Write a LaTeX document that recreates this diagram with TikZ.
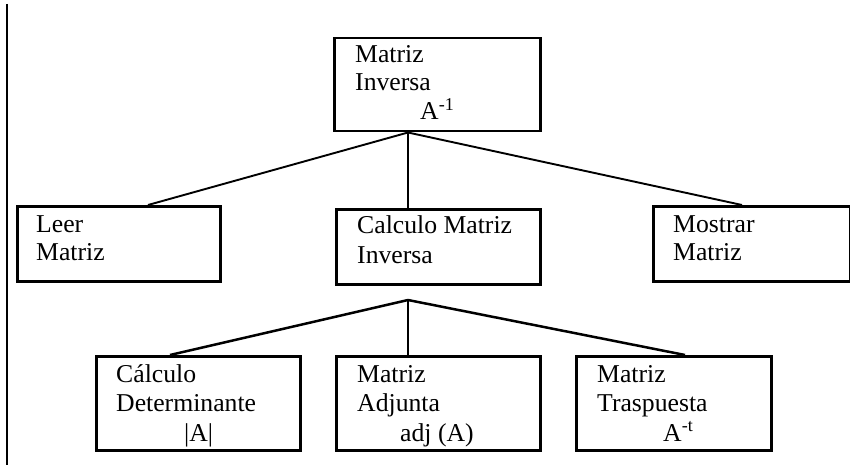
\documentclass[tikz,border=0pt]{standalone}
\usepackage{fontspec}
\setmainfont{Liberation Serif}
\begin{document}
\begin{tikzpicture}[x=1pt,y=-1pt,
  box/.style={draw,line width=2.5pt,rectangle,anchor=north west,inner sep=0pt},
  lbl/.style={anchor=base west,inner sep=0pt,font=\fontsize{25.7}{29}\selectfont},
  conn/.style={line width=1.9pt}]
\useasboundingbox (0,0) rectangle (850,465);
% left rule
\coordinate (rt) at (7,4);
\coordinate (rb) at (7,465);
\draw[line width=2.5pt] (rt) -- (rb);
% boxes
\node[box,minimum width=206pt,minimum height=93pt] (top) at (333,37) {};
\node[box,minimum width=203pt,minimum height=75pt] (leer) at (16,205) {};
\node[box,minimum width=204pt,minimum height=75pt] (calc) at (335,208) {};
\node[box,minimum width=197pt,minimum height=75pt] (most) at (652,205) {};
\node[box,minimum width=204pt,minimum height=94pt] (det) at (95,355) {};
\node[box,minimum width=204pt,minimum height=94pt] (adj) at (335,355) {};
\node[box,minimum width=195pt,minimum height=94pt] (tra) at (575,355) {};
% texts
\node[lbl] (t1) at (355,63) {Matriz};
\node[lbl] (t2) at (355,91) {Inversa};
\node[lbl] (t3) at (420,120) {A\textsuperscript{-1}};
\node[lbl] (l1) at (36,232) {Leer};
\node[lbl] (l2) at (36,260) {Matriz};
\node[lbl] (c1) at (357,233) {Calculo Matriz};
\node[lbl] (c2) at (357,263) {Inversa};
\node[lbl] (m1) at (673,232) {Mostrar};
\node[lbl] (m2) at (673,260) {Matriz};
\node[lbl] (d1) at (116,382) {Cálculo};
\node[lbl] (d2) at (116,411) {Determinante};
\node[lbl] (d3) at (184,441) {|A|};
\node[lbl] (a1) at (357,382) {Matriz};
\node[lbl] (a2) at (357,411) {Adjunta};
\node[lbl] (a3) at (400,441) {adj (A)};
\node[lbl] (p1) at (597,382) {Matriz};
\node[lbl] (p2) at (597,411) {Traspuesta};
\node[lbl] (p3) at (663,441) {A\textsuperscript{-t}};
% connectors
\coordinate (join) at ([xshift=75pt]top.south west);
\draw[conn] (join) -- ([xshift=132pt]leer.north west);
\draw[conn] (join) -- (join |- calc.north);
\draw[conn] (join) -- ([xshift=90pt]most.north west);
\coordinate (apex) at (408,300);
\draw[conn,line width=2.5pt] (apex) -- ([xshift=75pt]det.north west);
\draw[conn] (apex) -- (apex |- adj.north);
\draw[conn,line width=2.5pt] (apex) -- ([xshift=110pt]tra.north west);
\end{tikzpicture}
\end{document}
